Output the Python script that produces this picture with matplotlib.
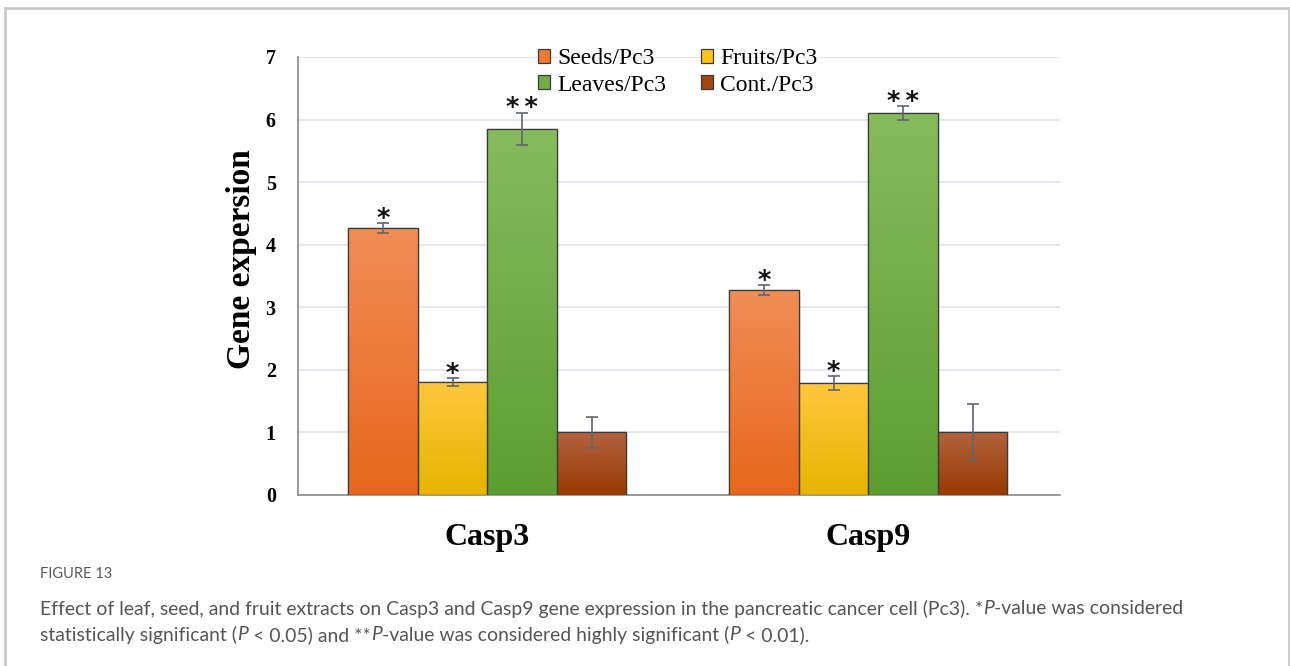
import numpy as np
import matplotlib
matplotlib.use("Agg")
import matplotlib.pyplot as plt
from matplotlib.colors import LinearSegmentedColormap
from matplotlib.patches import Patch
from matplotlib.lines import Line2D

# ---- data ----
genes = ["Casp3", "Casp9"]
series = ["Seeds/Pc3", "Fruits/Pc3", "Leaves/Pc3", "Cont./Pc3"]
seeds = [4.27, 3.27]
fruits = [1.81, 1.79]
leaves = [5.85, 6.11]
control = [1.00, 1.01]
seeds_err = [0.08, 0.08]
fruits_err = [0.06, 0.11]
leaves_err = [0.26, 0.11]
control_err = [0.25, 0.45]
seeds_sig = ["*", "*"]
fruits_sig = ["*", "*"]
leaves_sig = ["**", "**"]
control_sig = ["", ""]
yticks = [0, 1, 2, 3, 4, 5, 6, 7]

values = [seeds, fruits, leaves, control]
errors = [seeds_err, fruits_err, leaves_err, control_err]
marks = [seeds_sig, fruits_sig, leaves_sig, control_sig]

# top / bottom shades for the gradient fill of each series
shades = [("#f18d57", "#e7671c"),
          ("#ffc83e", "#e6b400"),
          ("#86bb5e", "#5e9d32"),
          ("#b2633f", "#983a00")]
solid = ["#ee7a33", "#fdc31a", "#72ad48", "#a34710"]

W, H = 1290, 666
fig = plt.figure(figsize=(W / 100, H / 100), dpi=100)
ax = fig.add_axes([298 / W, 1 - 495 / H, (1060 - 298) / W, (495 - 57) / H])

serif = "Liberation Serif"
bw = 0.1824
x = np.arange(len(genes))
offsets = [-1.5, -0.5, 0.5, 1.5]

ax.set_xlim(-0.497, 1.503)
ax.set_ylim(0, 7)

for i in range(4):
    bars = ax.bar(x + offsets[i] * bw, values[i], width=bw, color=solid[i],
                  edgecolor="#3a3a3a", linewidth=0.9, zorder=3)
    cmap = LinearSegmentedColormap.from_list("g%d" % i, [shades[i][1], shades[i][0]])
    for b in bars:
        x0, y0 = b.get_x(), b.get_y()
        w, h = b.get_width(), b.get_height()
        grad = np.linspace(0, 1, 256).reshape(-1, 1)
        im = ax.imshow(grad, cmap=cmap, origin="lower", aspect="auto",
                       extent=[x0, x0 + w, y0, y0 + h], zorder=3.5)
        im.set_clip_path(b)
        edge = plt.Rectangle((x0, y0), w, h, fill=False, edgecolor="#3a3a3a",
                             linewidth=0.9, zorder=4)
        ax.add_patch(edge)
    ax.errorbar(x + offsets[i] * bw, values[i], yerr=errors[i], fmt="none",
                ecolor="#5f6670", elinewidth=1.2, capsize=4, capthick=1.2, zorder=5)
    for j in range(len(genes)):
        if marks[i][j]:
            ax.annotate("\u2009".join(marks[i][j]),
                        xy=(x[j] + offsets[i] * bw, values[i][j] + errors[i][j]),
                        xytext=(0, -7), textcoords="offset points",
                        ha="center", va="bottom", fontsize=18.5, fontweight="bold",
                        family="DejaVu Sans", color="#111111", zorder=6)

ax.set_yticks(yticks)
ax.set_yticklabels([str(t) for t in yticks], family=serif, fontweight="bold",
                   fontsize=14.5)
ax.tick_params(axis="y", length=0, pad=16)
ax.set_xticks(x)
ax.set_xticklabels(genes, family=serif, fontweight="bold", fontsize=23)
ax.tick_params(axis="x", length=0, pad=20)
ax.grid(axis="y", color="#e3e4ec", linewidth=1.2, zorder=0)
ax.set_axisbelow(True)
for s in ["top", "right"]:
    ax.spines[s].set_visible(False)
ax.spines["left"].set_color("#8a8a8a")
ax.spines["bottom"].set_color("#8a8a8a")
ax.spines["left"].set_linewidth(1.2)
ax.spines["bottom"].set_linewidth(1.2)
ax.set_ylabel("Gene expersion", family=serif, fontweight="bold", fontsize=24)
ax.yaxis.set_label_coords((257 - 298) / 762, (495 - 259) / 438)

handles = [Patch(facecolor=solid[i], edgecolor="#3a3a3a", linewidth=0.9)
           for i in range(4)]
order = [0, 2, 1, 3]
leg = fig.legend([handles[k] for k in order], [series[k] for k in order],
                 ncol=2, loc="upper left", bbox_to_anchor=(538 / W, 1 - 48 / H),
                 frameon=False, prop={"family": serif, "size": 17},
                 handlelength=0.52, handleheight=0.52, handletextpad=0.3,
                 columnspacing=1.45, labelspacing=0.24, borderaxespad=0,
                 borderpad=0)

# outer frame of the figure panel
fcol = "#c6c6c6"
fig.add_artist(Line2D([5 / W, 5 / W], [0, 1 - 8 / H], transform=fig.transFigure,
                      color=fcol, linewidth=1.8))
fig.add_artist(Line2D([5 / W, 1288.5 / W], [1 - 8 / H, 1 - 8 / H],
                      transform=fig.transFigure, color=fcol, linewidth=1.8))
fig.add_artist(Line2D([1288.5 / W, 1288.5 / W], [0, 1 - 8 / H],
                      transform=fig.transFigure, color=fcol, linewidth=1.8))

# caption
cap_font = "Lato"
cap_col = "#555555"
fig.text(40 / W, 1 - 574 / H, "FIGURE 13", family=cap_font, fontsize=10.5,
         color="#5a5a5a", va="center", ha="left")

caption_lines = [
    [("Effect of leaf, seed, and fruit extracts on Casp3 and Casp9 gene expression in the pancreatic cancer cell (Pc3). *", "normal"),
     ("P", "italic"), ("-value was considered", "normal")],
    [("statistically significant (", "normal"), ("P", "italic"),
     (" < 0.05) and **", "normal"), ("P", "italic"),
     ("-value was considered highly significant (", "normal"), ("P", "italic"),
     (" < 0.01).", "normal")],
]
fig.canvas.draw()
renderer = fig.canvas.get_renderer()
line_y = [609, 635]
for ly, parts in zip(line_y, caption_lines):
    xpos = 40 / W
    for txt, style in parts:
        t = fig.text(xpos, 1 - ly / H, txt, family=cap_font, fontsize=13.95,
                     style=style, color=cap_col, va="center", ha="left")
        bb = t.get_window_extent(renderer=renderer)
        xpos += bb.width / W

fig.savefig("out.png", dpi=100)
